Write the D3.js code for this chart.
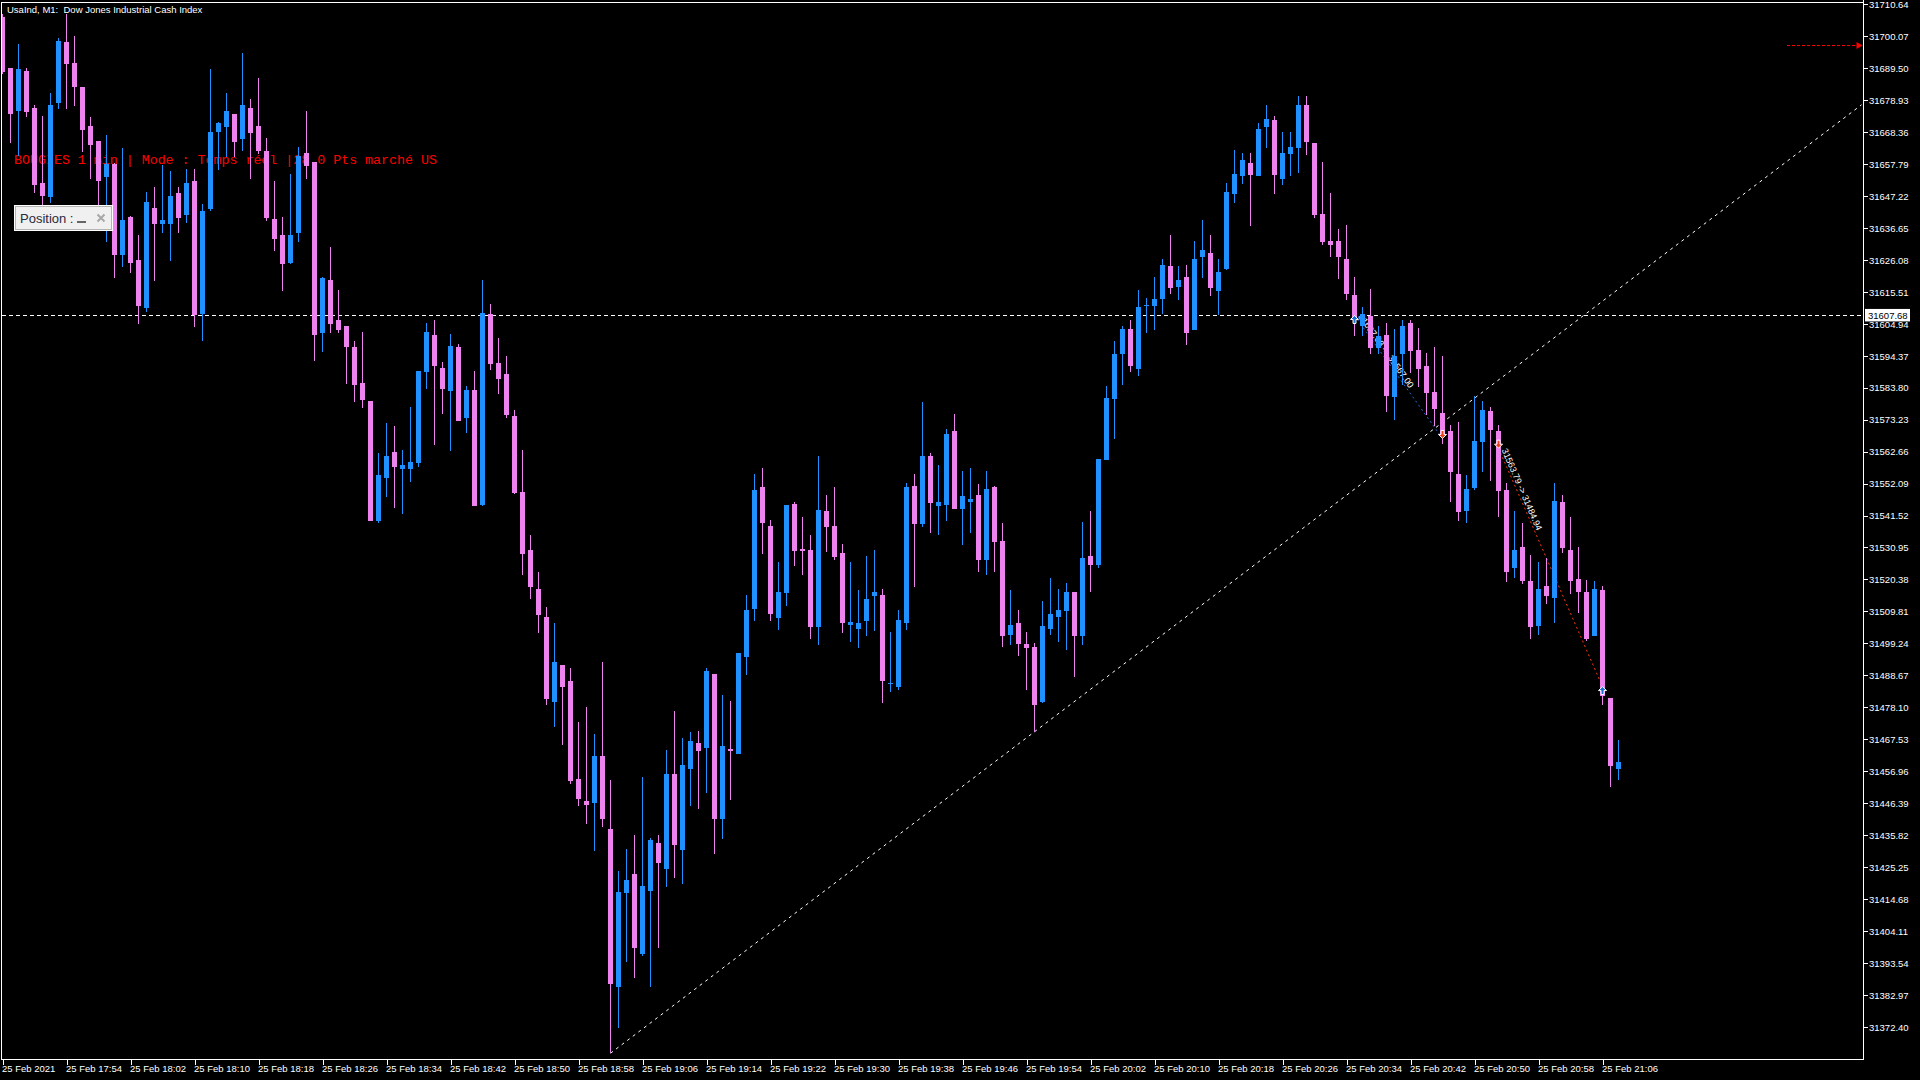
<!DOCTYPE html>
<html><head><meta charset="utf-8">
<script src="https://cdn.jsdelivr.net/npm/d3@7"></script>
<style>
html,body{margin:0;padding:0;background:#000;overflow:hidden}
svg{display:block}
text{white-space:pre}
</style></head><body>
<svg id="chart" width="1920" height="1080"></svg>
<script>
// ---- DATA (UsaInd M1, 25 Feb 2021, 17:46 -> 21:08) ----
const openP = [
31706.5,31689.4,31675.3,31688.5,31676.2,31651.5,31647.0,31677.9,31698.1,31691.2,
31683.2,31670.3,31665.4,31653.3,31657.9,31627.7,31640.2,31626.0,31610.3,31643.2,
31638.0,31638.0,31648.2,31640.9,31652.1,31608.0,31642.9,31668.4,31670.0,31674.3,
31666.0,31676.3,31670.3,31662.1,31639.6,31634.3,31625.0,31635.1,31661.4,31658.4,
31601.9,31619.4,31606.2,31604.2,31597.3,31585.4,31579.4,31539.8,31554.0,31562.5,
31557.0,31557.0,31559.0,31589.1,31601.2,31590.3,31582.8,31597.3,31573.9,31583.0,
31545.1,31608.2,31592.1,31588.4,31574.5,31549.3,31530.2,31517.2,31508.0,31479.9,
31492.0,31486.8,31454.4,31447.1,31446.4,31461.9,31437.9,31385.7,31416.8,31422.9,
31396.5,31417.5,31433.2,31424.7,31456.0,31430.8,31457.7,31466.3,31464.7,31489.1,
31441.0,31464.2,31462.8,31494.8,31510.7,31550.9,31538.1,31507.7,31516.0,31545.3,
31530.4,31530.2,31504.7,31543.0,31538.1,31529.2,31505.2,31504.0,31506.7,31514.8,
31515.2,31485.8,31484.9,31506.0,31551.2,31538.8,31561.3,31544.7,31545.0,31569.5,
31543.7,31546.0,31548.3,31526.9,31550.9,31533.1,31502.1,31506.0,31499.1,31498.1,
31479.9,31504.1,31508.1,31510.0,31516.2,31501.8,31528.1,31525.0,31559.9,31580.2,
31594.9,31603.1,31590.1,31610.8,31610.8,31613.1,31624.0,31617.1,31620.4,31602.9,
31627.0,31628.3,31615.7,31623.0,31647.8,31653.9,31658.1,31653.9,31670.0,31672.4,
31652.8,31661.1,31663.0,31677.3,31664.7,31641.2,31632.3,31632.3,31626.3,31614.4,
31604.3,31607.5,31597.0,31601.2,31580.7,31595.0,31605.2,31596.3,31591.0,31582.3,
31575.5,31569.4,31555.3,31543.0,31550.7,31565.8,31576.1,31569.4,31550.0,31524.0,
31531.1,31519.8,31505.1,31518.2,31514.1,31545.9,31530.2,31520.6,31516.2,31501.8,
31516.9,31481.2,31457.8];
const highP = [
31707.5,31689.5,31697.4,31689.4,31677.3,31673.6,31681.1,31699.5,31707.4,31700.1,
31683.3,31673.4,31665.5,31667.4,31658.0,31663.2,31640.7,31634.3,31648.5,31650.2,
31657.5,31655.5,31650.3,31656.1,31656.1,31644.5,31689.2,31671.6,31681.2,31674.4,
31694.5,31679.3,31686.2,31666.3,31652.1,31640.2,31654.5,31663.4,31675.3,31658.5,
31620.5,31630.3,31616.1,31604.3,31599.2,31602.1,31579.5,31562.1,31572.1,31571.1,
31563.2,31577.4,31589.4,31605.2,31606.2,31592.3,31601.5,31598.2,31584.3,31589.3,
31619.4,31611.5,31600.2,31594.3,31576.4,31563.2,31535.1,31522.8,31511.1,31506.0,
31492.1,31491.0,31473.2,31478.2,31469.3,31493.0,31454.0,31423.9,31431.2,31435.9,
31455.0,31434.9,31436.0,31463.9,31476.9,31467.9,31470.0,31470.3,31491.0,31489.2,
31482.1,31480.1,31496.2,31515.1,31555.2,31557.2,31540.1,31526.1,31545.1,31546.0,
31541.0,31535.1,31561.3,31548.3,31550.9,31532.1,31526.1,31516.9,31528.2,31530.2,
31517.2,31503.0,31510.2,31552.4,31555.2,31579.1,31562.3,31558.2,31570.2,31575.1,
31556.2,31557.2,31551.9,31556.2,31551.2,31539.1,31516.9,31510.2,31503.0,31499.4,
31513.2,31520.9,31517.2,31519.2,31516.3,31539.4,31542.9,31560.3,31584.3,31599.3,
31604.2,31606.1,31616.2,31613.4,31620.4,31626.3,31634.2,31624.0,31624.4,31632.3,
31639.2,31634.2,31626.3,31651.5,31662.4,31661.4,31661.4,31671.3,31677.3,31673.6,
31668.4,31668.4,31680.3,31680.3,31664.8,31658.4,31648.2,31636.3,31637.5,31620.4,
31610.4,31616.4,31604.3,31605.1,31603.2,31606.2,31606.1,31603.6,31595.3,31597.2,
31594.2,31571.6,31572.4,31554.9,31581.0,31579.4,31577.4,31571.4,31552.2,31543.0,
31539.1,31528.5,31526.1,31527.3,31552.2,31548.3,31541.0,31531.2,31520.2,31519.9,
31518.2,31481.3,31467.3];
const lowP = [
31687.5,31664.8,31660.5,31673.2,31648.3,31642.0,31645.0,31676.0,31676.1,31676.9,
31661.8,31652.8,31642.0,31632.1,31620.2,31623.8,31621.8,31605.0,31608.9,31619.2,
31635.1,31625.8,31635.1,31638.4,31604.0,31599.3,31642.2,31655.8,31660.2,31660.2,
31662.2,31652.8,31661.2,31639.0,31629.1,31615.9,31624.8,31632.1,31652.8,31592.7,
31595.7,31602.0,31602.0,31585.1,31579.2,31577.2,31539.7,31539.2,31547.8,31544.1,
31541.9,31552.7,31557.7,31583.2,31564.8,31575.0,31563.0,31572.8,31568.9,31544.7,
31544.8,31589.8,31581.8,31573.9,31548.7,31522.0,31513.9,31502.6,31478.9,31471.5,
31465.7,31452.7,31445.5,31439.4,31430.7,31438.6,31363.7,31371.9,31393.9,31388.7,
31395.8,31385.7,31398.6,31418.8,31421.8,31419.8,31445.5,31444.5,31449.9,31429.7,
31434.6,31447.5,31462.7,31488.9,31506.7,31528.9,31506.7,31503.7,31511.6,31524.9,
31522.0,31500.8,31498.8,31529.3,31526.9,31502.8,31499.8,31497.8,31501.8,31503.2,
31479.4,31483.0,31483.7,31503.7,31518.0,31537.8,31535.8,31535.1,31539.8,31543.6,
31531.9,31535.8,31522.8,31521.7,31522.8,31498.1,31498.8,31494.9,31483.8,31470.0,
31479.6,31502.1,31499.8,31496.9,31488.0,31498.8,31516.1,31524.2,31559.8,31566.8,
31584.6,31589.0,31587.8,31601.9,31602.9,31608.1,31614.8,31612.7,31597.9,31602.8,
31620.1,31614.0,31607.8,31622.7,31644.9,31651.1,31637.1,31653.8,31662.9,31647.8,
31650.8,31653.9,31654.8,31660.7,31639.9,31630.9,31627.0,31619.7,31612.7,31601.0,
31601.0,31595.0,31595.0,31575.7,31573.2,31584.8,31588.7,31583.9,31574.8,31571.0,
31565.3,31545.9,31539.8,31538.9,31550.1,31555.9,31553.0,31540.9,31519.6,31520.9,
31518.9,31500.8,31502.1,31512.1,31505.9,31529.1,31515.7,31509.2,31500.0,31501.7,
31478.7,31451.9,31453.9];
const closeP = [
31688.3,31674.3,31689.2,31675.0,31650.8,31647.3,31677.2,31698.4,31690.8,31683.2,
31669.0,31664.0,31652.1,31657.9,31627.8,31639.3,31625.1,31610.9,31645.2,31638.0,
31639.3,31647.2,31640.0,31651.5,31607.8,31642.2,31668.4,31671.3,31675.3,31665.0,
31677.3,31668.0,31662.1,31639.9,31633.0,31624.8,31634.3,31660.4,31657.0,31601.3,
31620.2,31605.0,31603.0,31597.4,31584.8,31579.8,31539.8,31554.9,31561.2,31557.7,
31558.2,31559.2,31589.3,31602.2,31591.1,31583.2,31597.6,31572.9,31583.0,31544.8,
31608.5,31591.7,31586.8,31574.9,31548.8,31528.9,31517.9,31508.6,31481.0,31493.0,
31484.9,31453.7,31447.8,31445.9,31461.9,31441.0,31386.7,31417.0,31420.9,31398.6,
31418.9,31434.2,31426.7,31456.0,31432.5,31458.9,31467.0,31463.6,31490.0,31441.0,
31465.3,31463.6,31496.1,31510.2,31549.9,31539.2,31509.1,31516.2,31545.0,31529.7,
31529.9,31504.7,31543.3,31537.8,31527.9,31506.0,31506.3,31506.0,31513.9,31516.2,
31486.9,31486.1,31507.0,31550.9,31538.8,31561.3,31545.7,31546.0,31568.5,31543.7,
31548.0,31547.0,31526.9,31550.2,31532.9,31501.8,31505.3,31499.1,31497.8,31478.9,
31505.0,31508.9,31510.3,31516.2,31501.8,31527.5,31525.0,31560.2,31580.4,31594.9,
31603.1,31590.9,31610.5,31611.1,31613.1,31624.4,31616.7,31619.4,31601.9,31626.3,
31629.3,31616.7,31622.0,31648.5,31654.4,31659.1,31654.1,31669.4,31672.6,31654.1,
31661.4,31663.3,31677.3,31665.1,31640.8,31631.9,31630.9,31627.0,31614.8,31606.4,
31608.2,31597.0,31601.0,31581.0,31594.4,31604.3,31596.0,31590.0,31582.1,31576.9,
31568.6,31555.9,31542.6,31550.3,31566.1,31576.4,31569.8,31549.7,31522.9,31530.1,
31520.0,31504.7,31517.2,31514.9,31546.3,31530.8,31520.0,31516.1,31500.8,31517.2,
31481.7,31458.8,31460.0];

const xTickIndex = [0,8,16,24,32,40,48,56,64,72,80,88,96,104,112,120,128,136,144,152,160,168,176,184,192,200];
const xTickLabels = ["25 Feb 2021","25 Feb 17:54","25 Feb 18:02","25 Feb 18:10","25 Feb 18:18","25 Feb 18:26",
 "25 Feb 18:34","25 Feb 18:42","25 Feb 18:50","25 Feb 18:58","25 Feb 19:06","25 Feb 19:14","25 Feb 19:22",
 "25 Feb 19:30","25 Feb 19:38","25 Feb 19:46","25 Feb 19:54","25 Feb 20:02","25 Feb 20:10","25 Feb 20:18",
 "25 Feb 20:26","25 Feb 20:34","25 Feb 20:42","25 Feb 20:50","25 Feb 20:58","25 Feb 21:06"];
const yTickValues = [31710.64,31700.07,31689.50,31678.93,31668.36,31657.79,31647.22,31636.65,31626.08,
 31615.51,31604.94,31594.37,31583.80,31573.23,31562.66,31552.09,31541.52,31530.95,31520.38,31509.81,
 31499.24,31488.67,31478.10,31467.53,31456.96,31446.39,31435.82,31425.25,31414.68,31404.11,31393.54,
 31382.97,31372.40];

const titleText = "UsaInd, M1:  Dow Jones Industrial Cash Index";
const infoText = "BOUGIES 1 min | Mode : Temps réel |28.0 Pts marché US";
const positionText = "Position :";
const hLinePrice = 31607.68;
const redRayPrice = 31697.1, redRayStartIndex = 223;
const trendAnchors = [[76, 31363.7], [129, 31470.0]];
const trades = [
  {openIndex:169, openPrice:31607.68, openType:"buy",  closeIndex:180, closePrice:31567.00, closeType:"sell", line:"#1e6fd8"},
  {openIndex:187, openPrice:31563.79, openType:"sell", closeIndex:200, closePrice:31484.94, closeType:"buy",  line:"#ff3a14"}
];

// ---- DRAW ----
const W = 1920, H = 1080;
const plotL = 1.5, plotT = 2.5, plotR = 1863.5, plotB = 1059.5;
const BULL = "#1e90ff", BEAR = "#ee82ee";
const FONT = "'Liberation Sans', Arial, sans-serif";

const svg = d3.select("#chart");
svg.append("rect").attr("width", W).attr("height", H).attr("fill", "#000");

const x = d3.scaleLinear().domain([0, 202]).range([2.5, 1618.5]);
const y = d3.scaleLinear().domain([31372.40, 31710.64]).range([1026.9, 4.1]);

const candles = openP.map((o, i) => ({i, o, h: highP[i], l: lowP[i], c: closeP[i]}));

const bg = svg.append("g");
const plotClip = svg.append("clipPath").attr("id", "clip").append("rect")
  .attr("x", plotL).attr("y", plotT).attr("width", plotR - plotL).attr("height", plotB - plotT);

// Title
svg.append("text").attr("x", 7).attr("y", 12.5).attr("fill", "#fff")
  .attr("font-family", FONT).attr("font-size", 9.5).text(titleText);

// Info text (red, behind candles)
bg.append("text").attr("x", 14).attr("y", 164).attr("fill", "#ff0000")
  .attr("font-family", "'Liberation Mono', 'Courier New', monospace").attr("font-size", 13.3)
  .text(infoText);

// Horizontal dashed line
bg.append("line").attr("x1", plotL).attr("x2", plotR)
  .attr("y1", Math.round(y(hLinePrice)) + 0.5).attr("y2", Math.round(y(hLinePrice)) + 0.5)
  .attr("stroke", "#fff").attr("stroke-dasharray", "4,3").attr("shape-rendering", "crispEdges");

// Trend line (ray to right edge)
{
  const [i1, p1] = trendAnchors[0], [i2, p2] = trendAnchors[1];
  const iEnd = x.invert(plotR - 2);
  const pEnd = p1 + (iEnd - i1) * (p2 - p1) / (i2 - i1);
  bg.append("line").attr("x1", x(i1)).attr("y1", y(p1)).attr("x2", x(iEnd)).attr("y2", y(pEnd))
    .attr("stroke", "#fff").attr("stroke-width", 1).attr("stroke-dasharray", "3,4");
}

// Red ray with arrow at top right
{
  const yy = Math.round(y(redRayPrice)) + 0.5;
  bg.append("line").attr("x1", x(redRayStartIndex)).attr("x2", plotR - 6).attr("y1", yy).attr("y2", yy)
    .attr("stroke", "#ff0000").attr("stroke-dasharray", "3,2").attr("shape-rendering", "crispEdges");
  bg.append("path").attr("d", `M${plotR - 7},${yy - 3.5} L${plotR - 1},${yy} L${plotR - 7},${yy + 3.5} Z`)
    .attr("fill", "#ff0000");
}

// Trade lines and labels
trades.forEach(t => {
  const x1 = x(t.openIndex), y1 = y(t.openPrice), x2 = x(t.closeIndex), y2 = y(t.closePrice);
  bg.append("line").attr("x1", x1).attr("y1", y1).attr("x2", x2).attr("y2", y2)
    .attr("stroke", t.line).attr("stroke-width", 1).attr("stroke-dasharray", "2,3");
  const ang = Math.atan2(y2 - y1, x2 - x1) * 180 / Math.PI;
  bg.append("text").attr("transform", `translate(${x1},${y1}) rotate(${ang})`)
    .attr("x", 3).attr("y", -2).attr("fill", "#fff").attr("font-family", FONT).attr("font-size", 9)
    .text(`${t.openPrice.toFixed(2)} -> ${t.closePrice.toFixed(2)}`);
});

// Candles
const cg = svg.append("g").attr("clip-path", "url(#clip)").attr("shape-rendering", "crispEdges");
cg.selectAll("rect.wick").data(candles).join("rect").attr("class", "wick")
  .attr("x", d => x(d.i) - 0.5).attr("width", 1)
  .attr("y", d => y(d.h)).attr("height", d => Math.max(1, y(d.l) - y(d.h)))
  .attr("fill", d => d.c >= d.o ? BULL : BEAR);
cg.selectAll("rect.body").data(candles).join("rect").attr("class", "body")
  .attr("x", d => x(d.i) - 2.5).attr("width", 5)
  .attr("y", d => y(Math.max(d.o, d.c)))
  .attr("height", d => Math.max(1, Math.abs(y(d.o) - y(d.c))))
  .attr("fill", d => d.c >= d.o ? BULL : BEAR);

// Trade arrows (on top)
function arrow(type, idx, price) {
  const ax = x(idx), ay = y(price);
  const d = type === "buy"
    ? "M0,0 L4,4 L1.5,4 L1.5,8 L-1.5,8 L-1.5,4 L-4,4 Z"
    : "M0,0 L4,-4 L1.5,-4 L1.5,-8 L-1.5,-8 L-1.5,-4 L-4,-4 Z";
  svg.append("path").attr("transform", `translate(${ax},${ay})`).attr("d", d)
    .attr("fill", type === "buy" ? "#1a6fd6" : "#e8401c").attr("stroke", "#fff").attr("stroke-width", 1);
}
trades.forEach(t => { arrow(t.openType, t.openIndex, t.openPrice); arrow(t.closeType, t.closeIndex, t.closePrice); });

// Frame
svg.append("path").attr("d", `M${plotL},${plotB} L${plotL},${plotT} L${plotR},${plotT} L${plotR},${plotB} L${plotL},${plotB}`)
  .attr("fill", "none").attr("stroke", "#fff").attr("shape-rendering", "crispEdges");
svg.append("line").attr("x1", plotR).attr("x2", plotR).attr("y1", 0).attr("y2", plotB)
  .attr("stroke", "#fff").attr("shape-rendering", "crispEdges");

// Y axis
const yAxis = svg.append("g").attr("transform", `translate(${plotR},0)`)
  .call(d3.axisRight(y).tickValues(yTickValues).tickFormat(d3.format(".2f")).tickSize(4).tickPadding(2));
yAxis.select(".domain").remove();
yAxis.selectAll("line").attr("stroke", "#fff").attr("shape-rendering", "crispEdges");
yAxis.selectAll("text").attr("fill", "#fff").attr("font-family", FONT).attr("font-size", 9.5).attr("x", 5.5).attr("dy", "0.35em");

// Current price label
{
  const yy = y(hLinePrice);
  svg.append("rect").attr("x", 1865).attr("y", yy - 6.5).attr("width", 45).attr("height", 12.5).attr("fill", "#fff");
  svg.append("text").attr("x", 1868).attr("y", yy).attr("dy", "0.35em").attr("fill", "#000")
    .attr("font-family", FONT).attr("font-size", 9.5).text(hLinePrice.toFixed(2));
}

// X axis
const xAxis = svg.append("g").attr("transform", `translate(0,${plotB})`)
  .call(d3.axisBottom(x).tickValues(xTickIndex).tickFormat((d, i) => xTickLabels[i]).tickSize(5));
xAxis.select(".domain").remove();
xAxis.selectAll("line").attr("stroke", "#fff").attr("shape-rendering", "crispEdges");
xAxis.selectAll("text").attr("fill", "#fff").attr("font-family", FONT).attr("font-size", 9.5)
  .attr("text-anchor", "start").attr("x", -1).attr("y", 12.5).attr("dy", 0);

// Position panel
{
  const g = svg.append("g");
  g.append("rect").attr("x", 14.5).attr("y", 205.5).attr("width", 98).attr("height", 25)
    .attr("fill", "#f0f0f0").attr("stroke", "#ffffff").attr("shape-rendering", "crispEdges");
  g.append("rect").attr("x", 15.5).attr("y", 206.5).attr("width", 96).attr("height", 23)
    .attr("fill", "none").attr("stroke", "#b4b4b4").attr("shape-rendering", "crispEdges");
  g.append("text").attr("x", 20).attr("y", 222.5).attr("fill", "#2a2a3a")
    .attr("font-family", FONT).attr("font-size", 13).text(positionText);
  g.append("rect").attr("x", 77).attr("y", 221).attr("width", 9).attr("height", 2).attr("fill", "#666");
  g.append("path").attr("d", "M97.5,214.5 L104.5,221.5 M104.5,214.5 L97.5,221.5")
    .attr("stroke", "#a8a8a8").attr("stroke-width", 2);
}
</script>
</body></html>
